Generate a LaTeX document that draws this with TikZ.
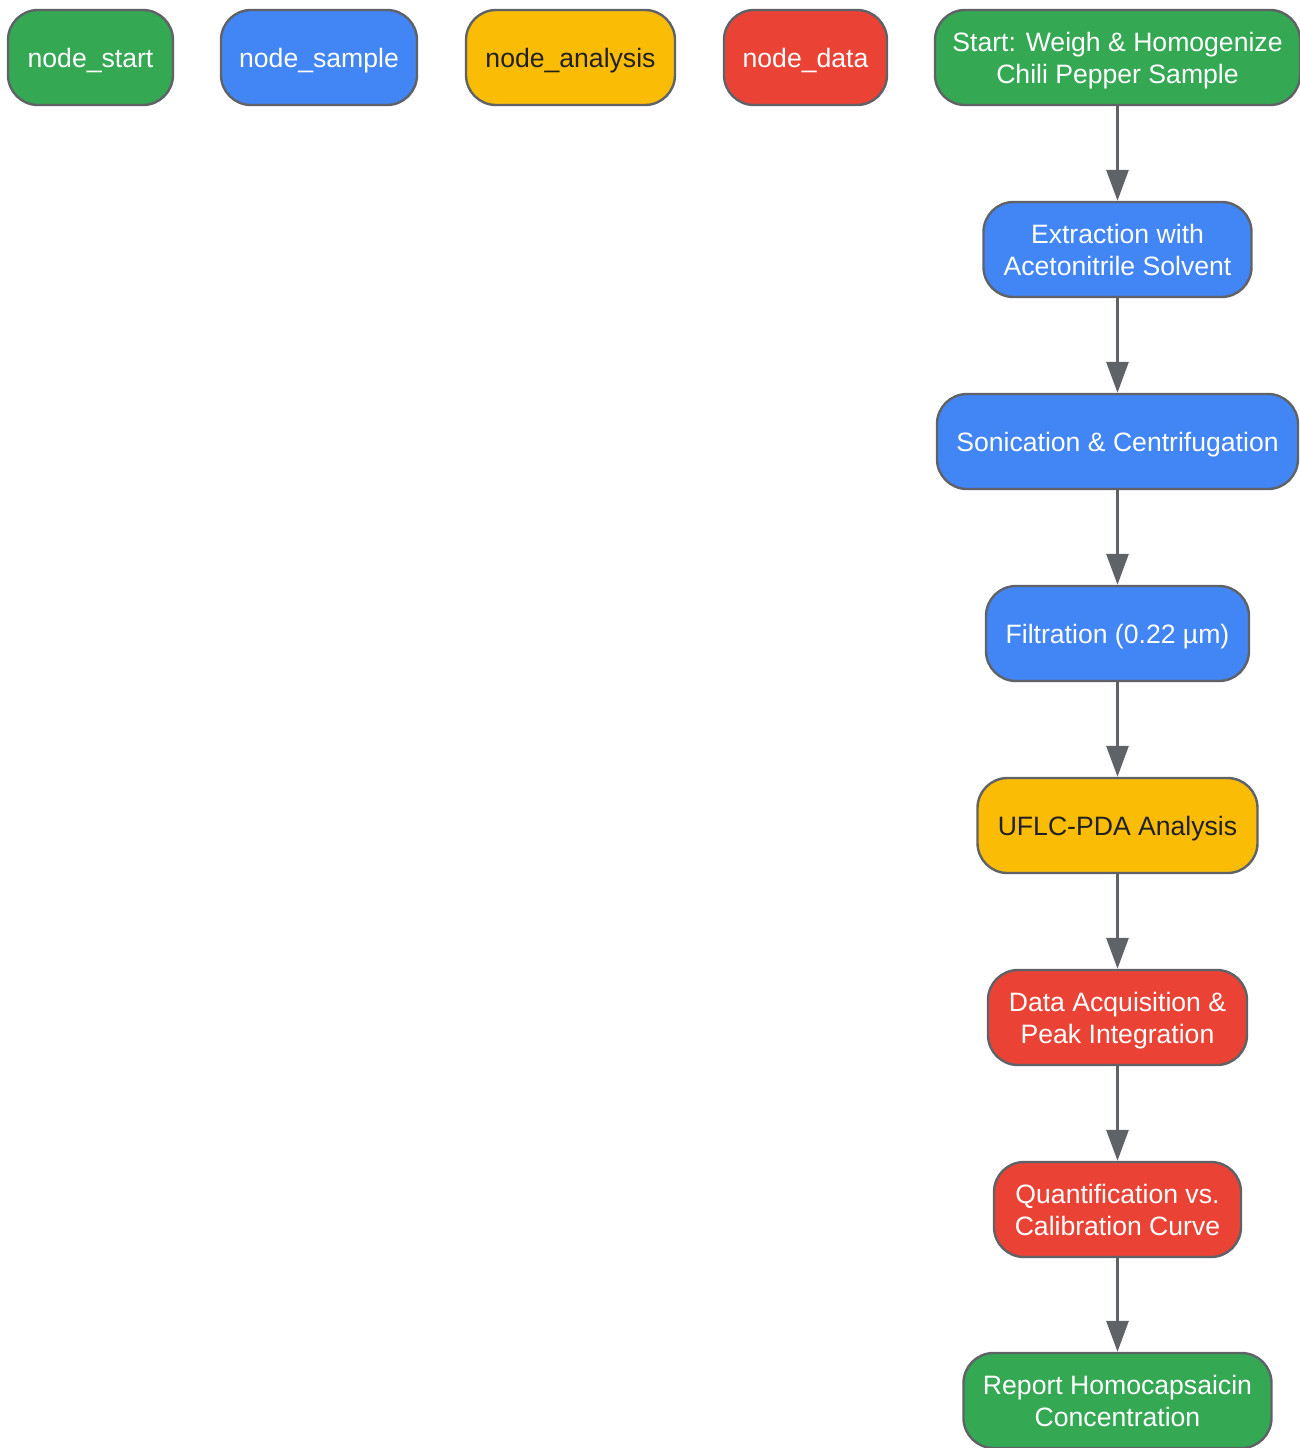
\documentclass[tikz,border=0pt]{standalone}
\usepackage{fontspec}
\setmainfont{Liberation Sans}
\usetikzlibrary{arrows.meta}
\definecolor{gGreen}{HTML}{34A853}
\definecolor{gBlue}{HTML}{4285F4}
\definecolor{gYellow}{HTML}{FBBC05}
\definecolor{gRed}{HTML}{EA4335}
\definecolor{gBorder}{HTML}{5F6368}
\definecolor{gText}{HTML}{202124}
\begin{document}
\begin{tikzpicture}[x=0.5pt,y=-0.5pt,
  lbl/.style={inner sep=0pt, align=center, font=\fontsize{13.3pt}{16pt}\selectfont, yshift=-1.5pt,
    execute at end node={\vphantom{g}}},
  box/.style={draw=gBorder, line width=1.2pt, rounded corners=15pt, minimum height=47.5pt,
    inner sep=0pt},
  greenbox/.style={box, fill=gGreen},
  bluebox/.style={box, fill=gBlue},
  yellowbox/.style={box, fill=gYellow},
  redbox/.style={box, fill=gRed},
  wt/.style={lbl, text=white},
  dt/.style={lbl, text=gText},
  flow/.style={draw=gBorder, line width=1.5pt, -{Triangle[length=15.5pt,width=11pt]}}]
\useasboundingbox (0,0) rectangle (1300,1448);
% legend
\node[greenbox, minimum width=82.5pt, label={[wt]center:node\_start}] (lstart) at (90.5,57.5) {};
\node[bluebox, minimum width=98pt, label={[wt]center:node\_sample}] (lsample) at (319,57.5) {};
\node[yellowbox, minimum width=104.5pt, label={[dt]center:node\_analysis}] (lanalysis) at (570.5,57.5) {};
\node[redbox, minimum width=81.5pt, label={[wt]center:node\_data}] (ldata) at (805.5,57.5) {};
% flow
\node[greenbox, minimum width=182.5pt, label={[wt]center:{Start: Weigh \& Homogenize\\Chili Pepper Sample}}] (start) at (1117.5,57.5) {};
\node[bluebox, minimum width=134pt, label={[wt]center:{Extraction with\\Acetonitrile Solvent}}] (extract) at (1117.5,249.5) {};
\node[bluebox, minimum width=180.5pt, label={[wt]center:{Sonication \& Centrifugation}}] (sonic) at (1117.5,441.5) {};
\node[bluebox, minimum width=131.5pt, label={[wt]center:{Filtration (0.22 µm)}}] (filter) at (1117.5,633.5) {};
\node[yellowbox, minimum width=140pt, label={[dt]center:{UFLC-PDA Analysis}}] (uflc) at (1117.5,825.5) {};
\node[redbox, minimum width=129.5pt, label={[wt]center:{Data Acquisition \&\\Peak Integration}}] (acq) at (1117.5,1017.5) {};
\node[redbox, minimum width=123.5pt, label={[wt]center:{Quantification vs.\\Calibration Curve}}] (quant) at (1117.5,1209.5) {};
\node[greenbox, minimum width=154pt, label={[wt]center:{Report Homocapsaicin\\Concentration}}] (report) at (1117.5,1400.5) {};
\draw[flow] (start) -- (extract);
\draw[flow] (extract) -- (sonic);
\draw[flow] (sonic) -- (filter);
\draw[flow] (filter) -- (uflc);
\draw[flow] (uflc) -- (acq);
\draw[flow] (acq) -- (quant);
\draw[flow] (quant) -- (report);
\end{tikzpicture}
\end{document}
